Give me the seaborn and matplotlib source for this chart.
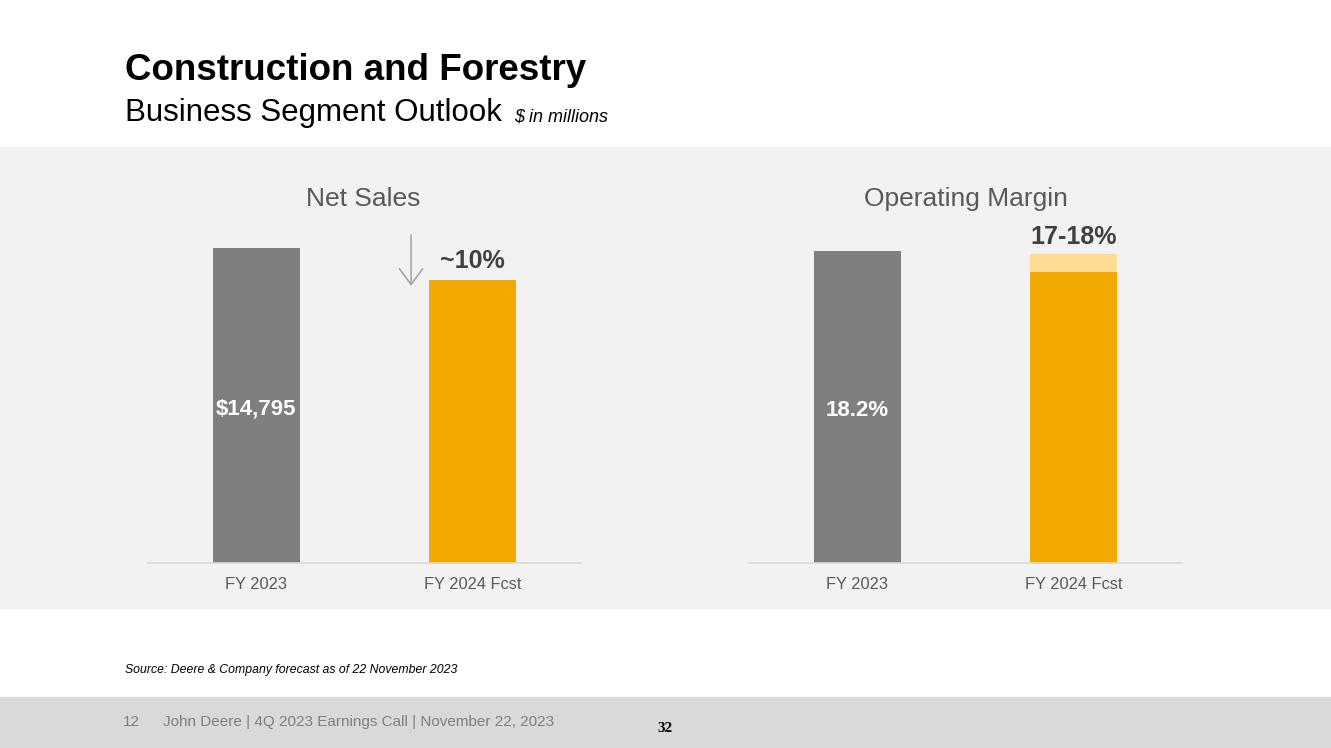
import numpy as np
import pandas as pd
import matplotlib
matplotlib.use("Agg")
import matplotlib.pyplot as plt
from matplotlib.patches import Rectangle
import seaborn as sns

# Chart data
years = ["FY 2023", "FY 2024 Fcst"]
net_sales = [14795, 13300]          # FY2024 ~10% down
net_sales_labels = ["$14,795", "~10%"]
margin_low = [18.2, 17.0]
margin_high = [18.2, 18.0]
margin_labels = ["18.2%", "17-18%"]

GRAY = "#7f7f7f"
ORANGE = "#f2a900"
LIGHT = "#ffdc92"
PANEL = "#f2f2f2"
FOOT = "#d9d9d9"

sns.set_theme(style="white")
plt.rcParams["font.family"] = ["Liberation Sans", "DejaVu Sans"]

W, H = 1331, 748
fig = plt.figure(figsize=(W / 100, H / 100), dpi=100)
fig.patch.set_facecolor("white")

def px(x0, y0, x1, y1):
    # pixel box (top-left origin) -> figure fraction
    return [x0 / W, 1 - y1 / H, (x1 - x0) / W, (y1 - y0) / H]

# background bands (behind the axes)
fig.patches.append(Rectangle((0, 1 - 608 / H), 1, (608 - 147) / H,
                             transform=fig.transFigure, color=PANEL, zorder=-5))
fig.patches.append(Rectangle((0, 0), 1, (748 - 697) / H,
                             transform=fig.transFigure, color=FOOT, zorder=-5))

# titles
fig.text(125 / W, 1 - 71 / H, "Construction and Forestry", fontsize=26.5,
         fontweight="bold", color="black", va="center", ha="left")
fig.text(125 / W, 1 - 113 / H, "Business Segment Outlook", fontsize=22.5,
         color="black", va="center", ha="left")
fig.text(514 / W, 1 - 117 / H, "$ in millions", fontsize=13, style="italic",
         color="black", va="center", ha="left")

def style_ax(ax):
    ax.set_facecolor("none")
    ax.set_xlim(-0.5, 1.5)
    for s in ["top", "right", "left"]:
        ax.spines[s].set_visible(False)
    ax.spines["bottom"].set_color("#d9d9d9")
    ax.spines["bottom"].set_linewidth(1.2)
    ax.set_yticks([])
    ax.set_xlabel("")
    ax.set_ylabel("")
    ax.tick_params(axis="x", length=0, pad=10, labelsize=11.8, labelcolor="#595959")

bar_kw = dict(width=0.4, legend=False, saturation=1, linewidth=0, edgecolor="none")

# Net Sales panel: bar top for FY2023 at y=248, baseline at y=563
ax1 = fig.add_axes(px(148, 213, 581, 563))
df1 = pd.DataFrame({"year": years, "value": net_sales})
sns.barplot(data=df1, x="year", y="value", hue="year",
            palette=[GRAY, ORANGE], ax=ax1, **bar_kw)
ax1.set_ylim(0, net_sales[0] * 350 / 315)
style_ax(ax1)
u1 = net_sales[0] / 315  # data units per pixel
fig.text(363 / W, 1 - 199 / H, "Net Sales", fontsize=19, color="#595959",
         ha="center", va="center")
ax1.text(0, net_sales[0] / 2 - 4 * u1, net_sales_labels[0], color="white", fontsize=16,
         fontweight="bold", ha="center", va="center")
ax1.text(1, net_sales[1] + 19 * u1, net_sales_labels[1],
         color="#404040", fontsize=18, fontweight="bold", ha="center", va="center")
ax1.annotate("", xy=(0.715, net_sales[1] - 6 * u1),
             xytext=(0.715, net_sales[1] + 45 * u1),
             arrowprops=dict(arrowstyle="->,head_width=0.7,head_length=0.95",
                             color="#a0a0a0", lw=1.1, shrinkA=0, shrinkB=0))

# Operating Margin panel: FY2023 top at y=251
ax2 = fig.add_axes(px(749, 213, 1182, 563))
df_hi = pd.DataFrame({"year": years, "value": margin_high})
df_lo = pd.DataFrame({"year": years, "value": margin_low})
sns.barplot(data=df_hi, x="year", y="value", hue="year",
            palette=[GRAY, LIGHT], ax=ax2, **bar_kw)
sns.barplot(data=df_lo, x="year", y="value", hue="year",
            palette=[GRAY, ORANGE], ax=ax2, **bar_kw)
ax2.set_ylim(0, margin_high[0] * 350 / 312)
style_ax(ax2)
u2 = margin_high[0] / 312
fig.text(966 / W, 1 - 199 / H, "Operating Margin", fontsize=19, color="#595959",
         ha="center", va="center")
ax2.text(0, margin_high[0] / 2 - 4 * u2, margin_labels[0], color="white", fontsize=16,
         fontweight="bold", ha="center", va="center")
ax2.text(1, margin_high[1] + 17 * u2, margin_labels[1],
         color="#404040", fontsize=18, fontweight="bold", ha="center", va="center")

# source and footer
fig.text(125 / W, 1 - 670 / H, "Source: Deere & Company forecast as of 22 November 2023",
         fontsize=8.8, style="italic", color="black", va="center", ha="left")
fig.text(123 / W, 1 - 722 / H, "12", fontsize=11, color="#7f7f7f", va="center")
fig.text(163 / W, 1 - 722 / H, "John Deere | 4Q 2023 Earnings Call | November 22, 2023",
         fontsize=11, color="#7f7f7f", va="center")
fig.text(665 / W, 1 - 729 / H, "32", fontsize=11, fontweight="bold", color="black",
         family=["Liberation Serif", "DejaVu Serif"], ha="center", va="center")

fig.savefig("out.png", dpi=100, facecolor="white")
